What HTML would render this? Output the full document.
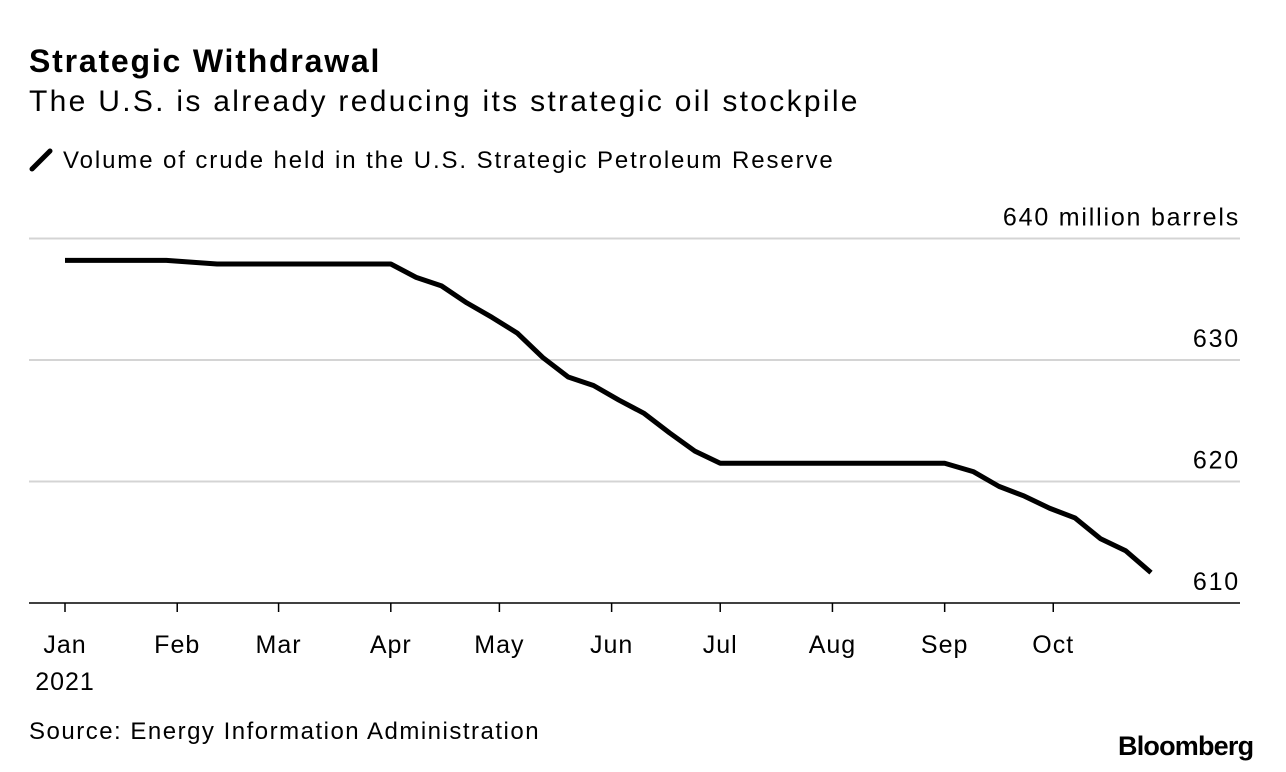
<!DOCTYPE html>
<html><head><meta charset="utf-8">
<style>
body{margin:0;background:#fff;font-family:"Liberation Sans",Arial,sans-serif;color:#000;}
#wrap{position:relative;width:1286px;height:772px;overflow:hidden;}
.t{position:absolute;white-space:nowrap;}
</style></head><body>
<div id="wrap">
<div class="t" style="left:29px;top:43px;font-size:32px;font-weight:bold;letter-spacing:1.8px;">Strategic Withdrawal</div>
<div class="t" style="left:29px;top:85px;font-size:30px;letter-spacing:2.3px;">The U.S. is already reducing its strategic oil stockpile</div>
<div class="t" style="left:29px;top:146px;font-size:24px;letter-spacing:1.9px;"><svg width="26" height="26" style="vertical-align:-4px;margin-right:8px"><line x1="3" y1="23" x2="21" y2="5" stroke="#000" stroke-width="5" stroke-linecap="round"/></svg>Volume of crude held in the U.S. Strategic Petroleum Reserve</div>
<svg id="chart" width="1286" height="772" style="position:absolute;left:0;top:0"></svg>
<div class="t" style="left:29px;top:718px;font-size:24px;letter-spacing:1.5px;">Source: Energy Information Administration</div>
<div class="t" style="left:1118px;top:731px;font-size:27px;font-weight:bold;letter-spacing:-0.8px;">Bloomberg</div>
</div>
<script>
const days=[0,28,42,49,56,63,70,77,84,90,97,104,111,118,125,132,139,146,153,160,167,174,181,188,195,202,209,216,223,230,237,243,251,258,265,272,279,286,293,300];
const values=[638.2,638.2,637.9,637.9,637.9,637.9,637.9,637.9,637.9,637.9,636.8,636.1,634.7,633.5,632.2,630.2,628.6,627.9,626.7,625.6,624.0,622.5,621.5,621.5,621.5,621.5,621.5,621.5,621.5,621.5,621.5,621.5,620.8,619.6,618.8,617.8,617.0,615.3,614.3,612.5];
const yTicks=[610,620,630,640];
const yTickLabels=["610","620","630","640 million barrels"];
const xTickDays=[0,31,59,90,120,151,181,212,243,273];
const xTickLabels=["Jan","Feb","Mar","Apr","May","Jun","Jul","Aug","Sep","Oct"];
const ns="http://www.w3.org/2000/svg";
const svg=document.getElementById('chart');
const x=d=>65+d*3.62;
const y=v=>603-(v-610)*12.15;
function mk(tag,attrs){const e=document.createElementNS(ns,tag);for(const k in attrs)e.setAttribute(k,attrs[k]);svg.appendChild(e);return e;}
yTicks.forEach((v,i)=>{
  const l=mk('line',{x1:29,x2:1240,y1:y(v),y2:y(v),stroke:i==0?'#000':'#d4d4d4','stroke-width':i==0?1.5:2});
  
  
  const t=mk('text',{x:1240,y:y(v)-13,'text-anchor':'end','font-size':25,'letter-spacing':'1.8','font-family':'Liberation Sans, Arial, sans-serif'});
  t.textContent=yTickLabels[i];
  
  
});
xTickDays.forEach((d,i)=>{
  const l=mk('line',{x1:x(d),x2:x(d),y1:603,y2:612,stroke:'#000','stroke-width':1.5});
  
  
  const t=mk('text',{x:x(d),y:653,'text-anchor':'middle','font-size':25,'letter-spacing':'1','font-family':'Liberation Sans, Arial, sans-serif'});
  t.textContent=xTickLabels[i];
  
  
});
const yr=mk('text',{x:x(0),y:690,'text-anchor':'middle','font-size':25,'letter-spacing':'1','font-family':'Liberation Sans, Arial, sans-serif'});
yr.textContent='2021';


const p=mk('polyline',{points:days.map((d,i)=>x(d)+','+y(values[i])).join(' '),fill:'none',stroke:'#000','stroke-width':5,'stroke-linejoin':'round'});


</script>
</body></html>
